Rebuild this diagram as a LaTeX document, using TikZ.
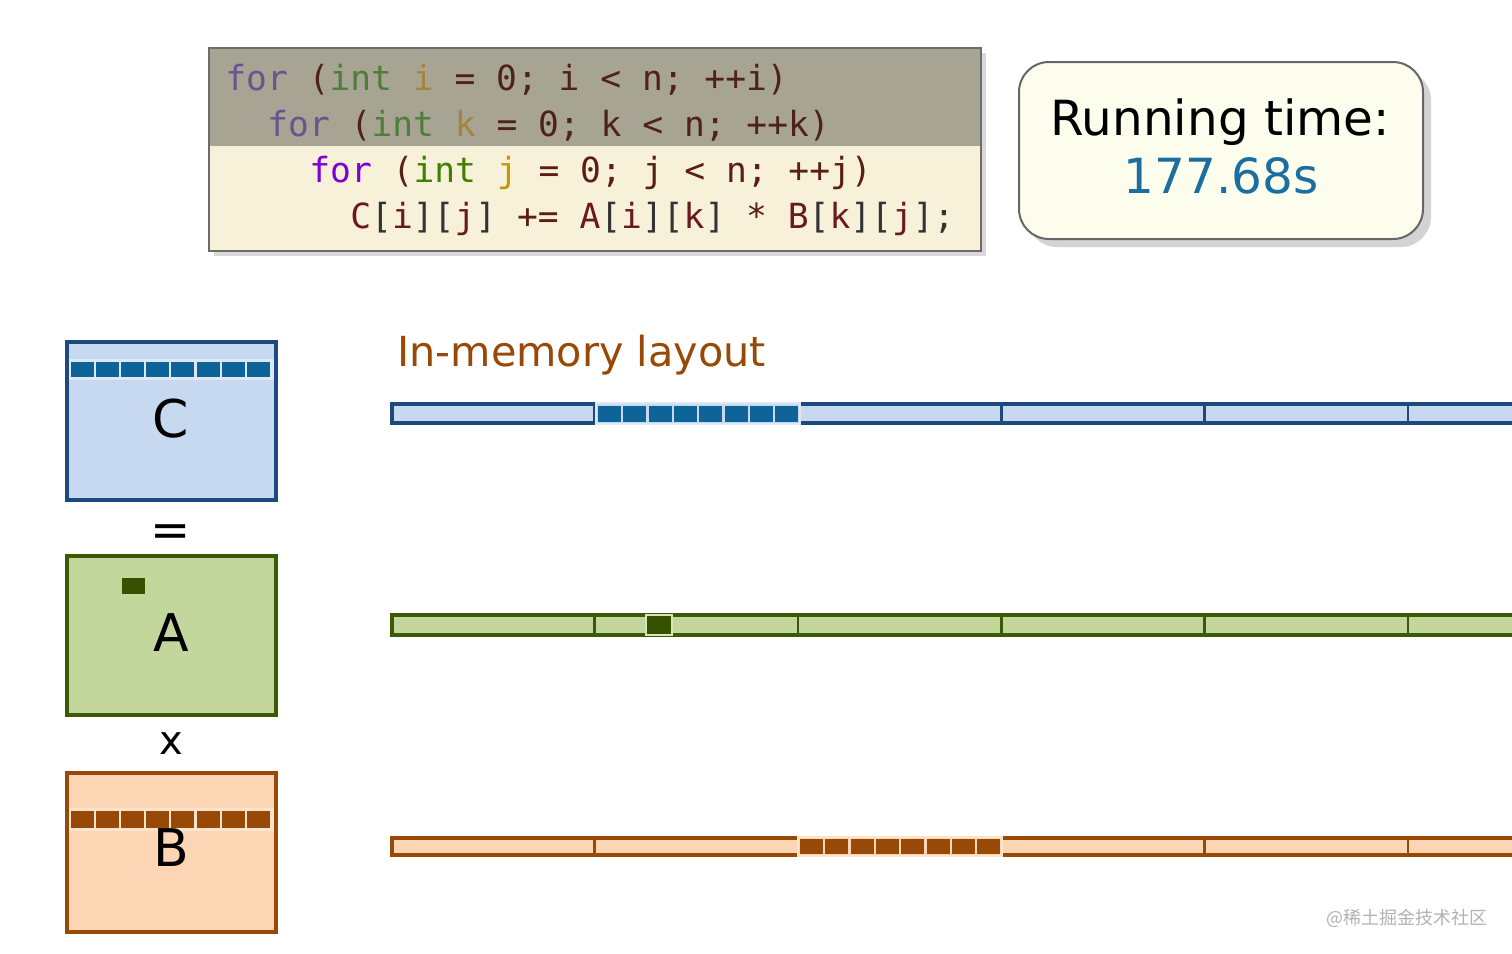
\documentclass[tikz,border=0pt]{standalone}
\usepackage{fontspec}
\setmainfont{DejaVu Sans}
\setmonofont{DejaVu Sans Mono}
\newfontfamily\cjk{Noto Sans CJK SC}
\usetikzlibrary{shadows}
\definecolor{cfill}{HTML}{C6D9F1}
\definecolor{cline}{HTML}{1F497D}
\definecolor{cdark}{HTML}{0E6398}
\definecolor{chl}{HTML}{DCE8F6}
\definecolor{afill}{HTML}{C3D69B}
\definecolor{aline}{HTML}{3B5A06}
\definecolor{adark}{HTML}{365200}
\definecolor{ahl}{HTML}{D6E6B8}
\definecolor{bfill}{HTML}{FCD5B4}
\definecolor{bline}{HTML}{984807}
\definecolor{bdark}{HTML}{984807}
\definecolor{bhl}{HTML}{FDE3C9}
\definecolor{cream}{HTML}{F7F1DA}
\definecolor{dimbg}{HTML}{A8A494}
\definecolor{rtfill}{HTML}{FDFDEE}
\definecolor{rtblue}{HTML}{1A6EA0}
\definecolor{titlec}{HTML}{984807}
\definecolor{kw}{HTML}{7F00D4}
\definecolor{ty}{HTML}{3F8000}
\definecolor{var}{HTML}{C89600}
\definecolor{tx}{HTML}{5A1E14}
\definecolor{kwd}{HTML}{66558F}
\definecolor{tyd}{HTML}{4F7D3B}
\definecolor{vard}{HTML}{A8823F}
\definecolor{txd}{HTML}{4E2218}
\definecolor{idc}{HTML}{6B1A1A}
\definecolor{brk}{HTML}{333333}
\tikzset{
  code/.style={anchor=base west, inner sep=0pt, font=\fontsize{17.3pt}{20pt}\selectfont\ttfamily},
  letter/.style={anchor=base, inner sep=0pt, font=\fontsize{26pt}{30pt}\selectfont},
  matC/.style={fill=cfill, draw=cline, line width=2.2pt},
  matA/.style={fill=afill, draw=aline, line width=2.2pt},
  matB/.style={fill=bfill, draw=bline, line width=2.2pt},
  bar/.style={line width=1.8pt},
  divider/.style={line width=1.3pt},
}
\begin{document}
\begin{tikzpicture}[x=0.5pt,y=-0.5pt]
\useasboundingbox (0,0) rectangle (1512,954);
% code box
\fill[cream, drop shadow={shadow xshift=2.5pt, shadow yshift=-2.5pt, opacity=0.3}] (209,48) rectangle (981,251);
\fill[dimbg] (209,48) rectangle (981,146);
\node[code] (l1) at (225,90) {\textcolor{kwd}{for} \textcolor{txd}{(}\textcolor{tyd}{int} \textcolor{vard}{i} \textcolor{txd}{= 0; i < n; ++i)}};
\node[code] (l2) at (267,136) {\textcolor{kwd}{for} \textcolor{txd}{(}\textcolor{tyd}{int} \textcolor{vard}{k} \textcolor{txd}{= 0; k < n; ++k)}};
\node[code] (l3) at (309,182) {\textcolor{kw}{for} \textcolor{tx}{(}\textcolor{ty}{int} \textcolor{var}{j} \textcolor{tx}{= 0; j < n; ++j)}};
\node[code] (l4) at (350,228) {\textcolor{idc}{C}\textcolor{brk}{[}\textcolor{idc}{i}\textcolor{brk}{][}\textcolor{idc}{j}\textcolor{brk}{]} \textcolor{tx}{+=} \textcolor{idc}{A}\textcolor{brk}{[}\textcolor{idc}{i}\textcolor{brk}{][}\textcolor{idc}{k}\textcolor{brk}{]} \textcolor{tx}{*} \textcolor{idc}{B}\textcolor{brk}{[}\textcolor{idc}{k}\textcolor{brk}{][}\textcolor{idc}{j}\textcolor{brk}{];}};
\draw[gray!85!black, line width=1.3pt] (209,48) rectangle (981,251);
% running time box
\draw[fill=rtfill, draw=gray!80!black, line width=1pt, rounded corners=15pt, drop shadow={shadow xshift=4pt, shadow yshift=-4pt, opacity=0.35}] (1019,62) rectangle (1423,239);
\node[anchor=base, inner sep=0pt, font=\fontsize{24.2pt}{28pt}\selectfont] (rt) at (1220,135) {Running time:};
\node[anchor=base, inner sep=0pt, font=\fontsize{24.2pt}{28pt}\selectfont, text=rtblue] (rtv) at (1221,193) {177.68s};
% matrices
\draw[matC] (67,342) rectangle (276,500);
\fill[chl] (69,359) rectangle (274,380);
\foreach \i in {0,...,7} {\fill[cdark] ({71+\i*25.1},362) rectangle ({71+\i*25.1+23},377);}
\node[letter] (Cl) at (171,437) {C};
\node[anchor=base, inner sep=0pt, font=\fontsize{24pt}{28pt}\selectfont] (eq) at (171,546) {=};
\draw[matA] (67,556) rectangle (276,715);
\fill[adark] (122,578) rectangle (145,594);
\node[letter] (Al) at (171,651) {A};
\node[anchor=base, inner sep=0pt, font=\fontsize{20pt}{24pt}\selectfont] (times) at (171,754) {x};
\draw[matB] (67,773) rectangle (276,932);
\fill[bhl] (69,808) rectangle (274,831);
\foreach \i in {0,...,7} {\fill[bdark] ({71+\i*25.1},811) rectangle ({71+\i*25.1+23},828);}
\node[letter] (Bl) at (171,866) {B};
% title
\node[anchor=base west, inner sep=0pt, text=titlec, font=\fontsize{20.7pt}{25pt}\selectfont] (title) at (397,366) {In-memory layout};
% C bar
\draw[bar, fill=cfill, draw=cline] (392,404) rectangle (1530,423);
\foreach \k in {1,...,5} {\draw[divider, cline] ({391+\k*203.4},404) -- ({391+\k*203.4},423);}
\filldraw[fill=cfill, draw=chl, line width=1pt] (596,403) rectangle (800,424);
\foreach \i in {0,...,7} {\fill[cdark] ({598+\i*25.3},405.5) rectangle ({598+\i*25.3+23},421.5);}
% A bar
\draw[bar, fill=afill, draw=aline] (392,615) rectangle (1530,635);
\foreach \k in {1,...,5} {\draw[divider, aline] ({391+\k*203.4},615) -- ({391+\k*203.4},635);}
\filldraw[fill=adark, draw=ahl, line width=1pt] (646,615) rectangle (672,635);
% B bar
\draw[bar, fill=bfill, draw=bline] (392,838) rectangle (1530,855);
\foreach \k in {1,...,5} {\draw[divider, bline] ({391+\k*203.4},838) -- ({391+\k*203.4},855);}
\filldraw[fill=bfill, draw=bhl, line width=1pt] (798,837) rectangle (1002,856);
\foreach \i in {0,...,7} {\fill[bdark] ({800+\i*25.3},839) rectangle ({800+\i*25.3+23},854);}
% watermark
\node[inner sep=0pt, text=black!30, font=\cjk\fontsize{9pt}{11pt}\selectfont] (wm) at (1407,918) {@稀土掘金技术社区};
\end{tikzpicture}
\end{document}
